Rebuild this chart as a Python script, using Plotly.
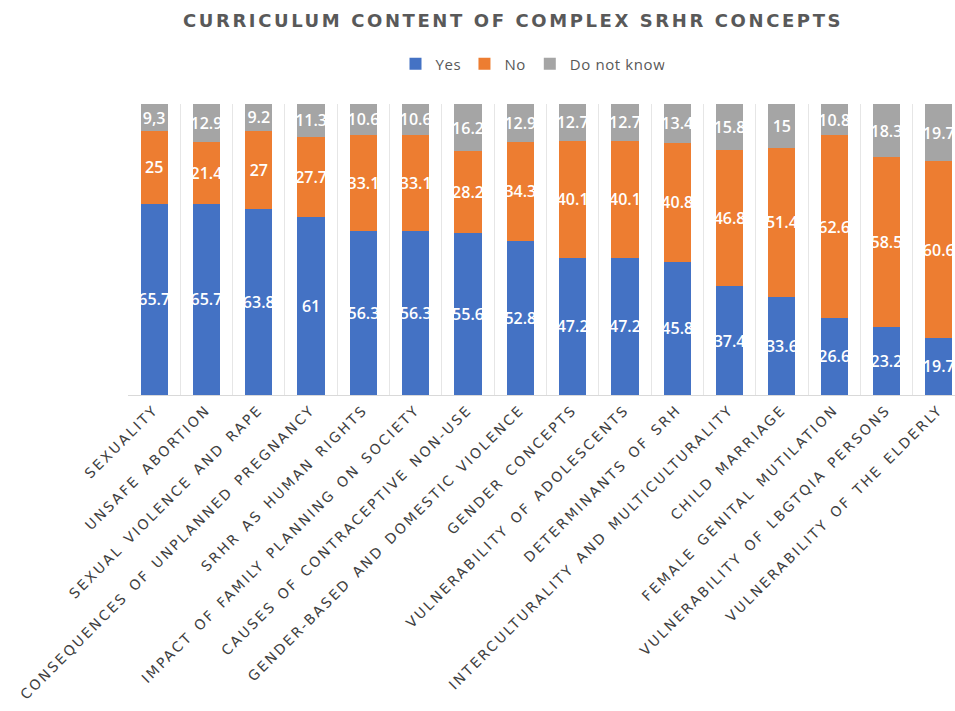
import plotly.graph_objects as go

categories = [
    "SEXUALITY", "UNSAFE ABORTION", "SEXUAL VIOLENCE AND RAPE",
    "CONSEQUENCES OF UNPLANNED PREGNANCY", "SRHR AS HUMAN RIGHTS",
    "IMPACT OF FAMILY PLANNING ON SOCIETY", "CAUSES OF CONTRACEPTIVE NON-USE",
    "GENDER-BASED AND DOMESTIC VIOLENCE", "GENDER CONCEPTS",
    "VULNERABILITY OF ADOLESCENTS", "DETERMINANTS OF SRH",
    "INTERCULTURALITY AND MULTICULTURALITY", "CHILD MARRIAGE",
    "FEMALE GENITAL MUTILATION", "VULNERABILITY OF LBGTQIA PERSONS",
    "VULNERABILITY OF THE ELDERLY",
]
yes_vals = [65.7, 65.7, 63.8, 61, 56.3, 56.3, 55.6, 52.8, 47.2, 47.2, 45.8, 37.4, 33.6, 26.6, 23.2, 19.7]
no_vals = [25, 21.4, 27, 27.7, 33.1, 33.1, 28.2, 34.3, 40.1, 40.1, 40.8, 46.8, 51.4, 62.6, 58.5, 60.6]
dk_vals = [9.3, 12.9, 9.2, 11.3, 10.6, 10.6, 16.2, 12.9, 12.7, 12.7, 13.4, 15.8, 15, 10.8, 18.3, 19.7]
dk_labels = ["9,3", "12.9", "9.2", "11.3", "10.6", "10.6", "16.2", "12.9", "12.7", "12.7",
             "13.4", "15.8", "15", "10.8", "18.3", "19.7"]

series = [
    ("Yes", yes_vals, [f"{v:g}" for v in yes_vals], "#4472C4"),
    ("No", no_vals, [f"{v:g}" for v in no_vals], "#ED7D31"),
    ("Do not know", dk_vals, dk_labels, "#A5A5A5"),
]

fig = go.Figure()
for name, vals, labels, color in series:
    fig.add_trace(go.Bar(
        x=categories, y=vals, name=name, text=labels,
        textposition="inside", insidetextanchor="middle", textangle=0,
        constraintext="none",
        textfont=dict(family="Open Sans", size=16, color="white", weight=600),
        marker=dict(color=color, line=dict(width=0)),
        width=0.52,
    ))

fig.update_layout(
    barmode="stack",
    width=955, height=711,
    margin=dict(l=128, r=0, t=104, b=316),
    paper_bgcolor="white", plot_bgcolor="white",
    title=dict(
        text="<b>CURRICULUM CONTENT OF COMPLEX SRHR CONCEPTS</b>",
        font=dict(family="DejaVu Sans", size=18, color="#595959"),
        x=513 / 955, xref="container", xanchor="center",
        y=1 - 21 / 711, yref="container", yanchor="middle",
    ),
    legend=dict(
        orientation="h", x=530 / 955, xref="container", xanchor="center",
        y=1 - 64 / 711, yref="container", yanchor="middle",
        font=dict(family="Open Sans", size=15, color="#595959"),
        traceorder="normal", itemwidth=30,
    ),
    showlegend=True,
)
fig.update_xaxes(
    range=[-0.5, 15.31], tickangle=-45, tickson="boundaries",
    showgrid=True, gridcolor="#e6e6e6", gridwidth=1,
    showline=True, linecolor="#d9d9d9", linewidth=1,
    ticks="", automargin=False,
    tickfont=dict(family="DejaVu Sans", size=14, color="#404040"),
)
fig.update_yaxes(range=[0, 100], visible=False, showgrid=False)

post_js = """
document.body.style.margin = '0';
var gd = document.getElementById('{plot_id}');
function spacing() {
  gd.querySelectorAll('.xtick text').forEach(function (t) {
    t.style.letterSpacing = '2.3px'; t.style.wordSpacing = '2px';
  });
  gd.querySelectorAll('.gtitle').forEach(function (t) { t.style.letterSpacing = '2.6px'; });
  gd.querySelectorAll('.legendtext').forEach(function (t) { t.style.letterSpacing = '0.6px'; });
}
spacing();
gd.on('plotly_afterplot', spacing);
"""

fig.write_html("out.html", post_script=post_js, config={"displayModeBar": False})
